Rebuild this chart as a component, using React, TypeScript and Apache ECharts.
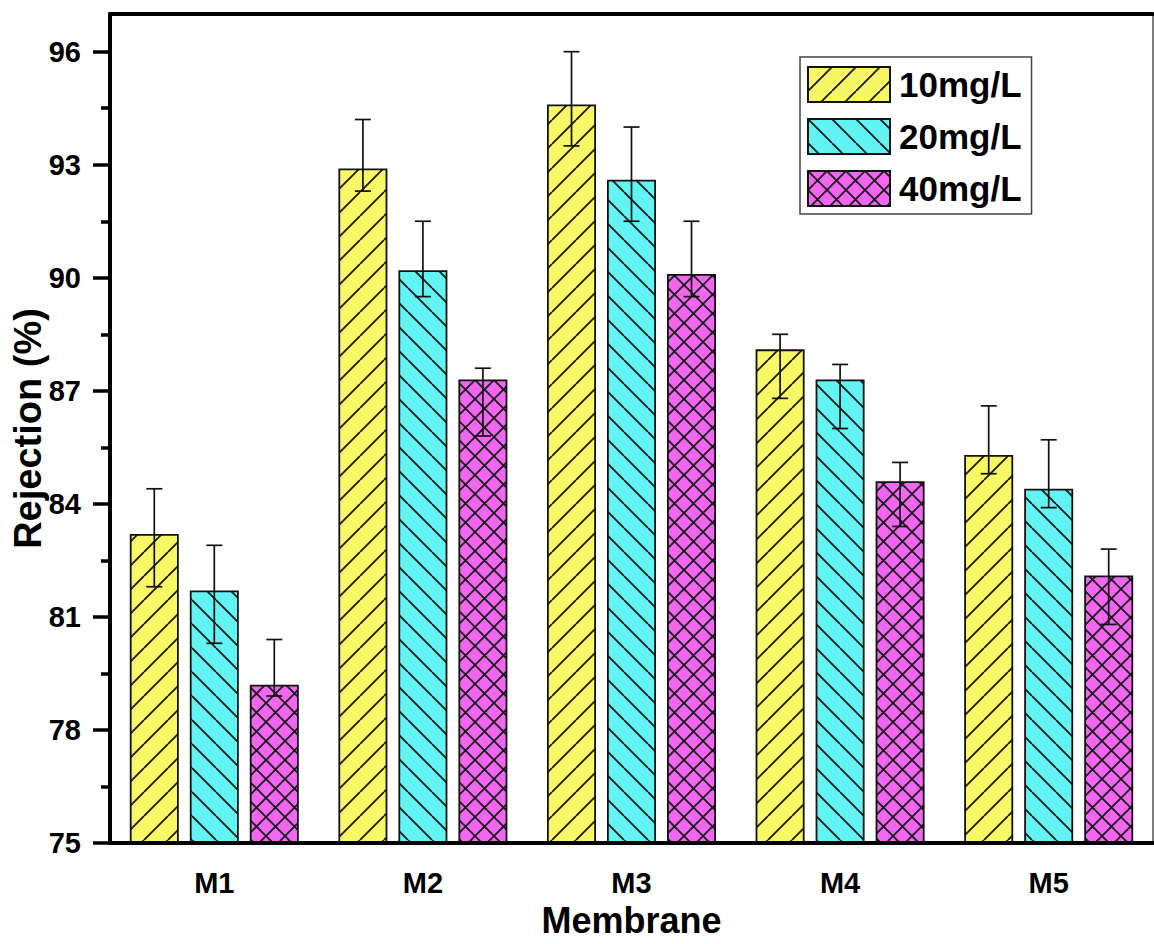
import React, { useEffect, useRef } from "react";
import * as echarts from "echarts";

const categories = ["M1", "M2", "M3", "M4", "M5"];
const seriesNames = ["10mg/L", "20mg/L", "40mg/L"];
const values10 = [83.2, 92.9, 94.6, 88.1, 85.3];
const values20 = [81.7, 90.2, 92.6, 87.3, 84.4];
const values40 = [79.2, 87.3, 90.1, 84.6, 82.1];
const errLow10 = [81.8, 92.3, 93.5, 86.8, 84.8];
const errHigh10 = [84.4, 94.2, 96.0, 88.5, 86.6];
const errLow20 = [80.3, 89.5, 91.5, 86.0, 83.9];
const errHigh20 = [82.9, 91.5, 94.0, 87.7, 85.7];
const errLow40 = [78.9, 85.8, 89.5, 83.4, 80.8];
const errHigh40 = [80.4, 87.6, 91.5, 85.1, 82.8];
const yTickLabels = [75, 78, 81, 84, 87, 90, 93, 96];
const yMin = 75;
const yMax = 97;

const FONT = "'Liberation Sans', Arial, Helvetica, sans-serif";
const BAR_WIDTH = 49;
const BAR_GAP_PX = 11;

function makePattern(bg: string, kind: string, size: number) {
  const c = document.createElement("canvas");
  c.width = size;
  c.height = size;
  const ctx = c.getContext("2d")!;
  ctx.fillStyle = bg;
  ctx.fillRect(0, 0, size, size);
  ctx.strokeStyle = "#1a1a1a";
  ctx.lineWidth = 1.8;
  ctx.beginPath();
  for (const k of [-size, 0, size]) {
    if (kind === "fwd" || kind === "cross") {
      ctx.moveTo(k, size);
      ctx.lineTo(k + size, 0);
    }
    if (kind === "back" || kind === "cross") {
      ctx.moveTo(k, 0);
      ctx.lineTo(k + size, size);
    }
  }
  ctx.stroke();
  return {
    image: c.toDataURL(),
    repeat: "repeat",
    imageWidth: size,
    imageHeight: size,
  } as any;
}

export default function App() {
  const ref = useRef<HTMLDivElement>(null);
  useEffect(() => {
    if (!ref.current) return;
    const chart = echarts.init(ref.current, null, { renderer: "svg" });
    const pats = [
      makePattern("#F8F866", "fwd", 24),
      makePattern("#62F3F3", "back", 24),
      makePattern("#F266F2", "cross", 19),
    ];
    const vals = [values10, values20, values40];
    const lows = [errLow10, errLow20, errLow40];
    const highs = [errHigh10, errHigh20, errHigh40];

    const errData: number[][] = [];
    for (let s = 0; s < 3; s++) {
      for (let i = 0; i < categories.length; i++) {
        errData.push([i, lows[s][i], highs[s][i], s]);
      }
    }
    const minorTicks = yTickLabels.slice(0, -1).map((v, i) => (v + yTickLabels[i + 1]) / 2);

    const barSeries = seriesNames.map((name, s) => ({
      name,
      type: "bar",
      barWidth: BAR_WIDTH,
      barGap: (BAR_GAP_PX / BAR_WIDTH) * 100 + "%",
      data: vals[s],
      itemStyle: {
        color: pats[s],
        borderColor: "#111",
        borderWidth: 1.8,
      },
      z: 2,
    }));

    const option: any = {
      animation: false,
      backgroundColor: "#fff",
      textStyle: { fontFamily: FONT },
      grid: { left: 110, right: 1, top: 14, bottom: 101, containLabel: false, outerBoundsMode: "none" },
      legend: {
        data: seriesNames,
        orient: "vertical",
        left: 800,
        top: 57,
        padding: [9, 10, 7, 7],
        itemWidth: 82,
        itemHeight: 35,
        itemGap: 15,
        icon: "rect",
        borderColor: "#444",
        borderWidth: 1.5,
        textStyle: { fontSize: 35, fontWeight: "bold", color: "#000", fontFamily: FONT, padding: [0, 0, 0, 4] },
      },
      xAxis: [
        {
          type: "category",
          data: categories,
          z: 10,
          axisLine: { lineStyle: { color: "#000", width: 4 } },
          axisTick: { alignWithLabel: true, length: 16, lineStyle: { color: "#000", width: 3 } },
          axisLabel: { fontSize: 29, fontWeight: "bold", color: "#000", margin: 25, fontFamily: FONT },
          name: "Membrane",
          nameLocation: "middle",
          nameGap: 59,
          nameMoveOverlap: false,
          nameTextStyle: { fontSize: 36, fontWeight: "bold", color: "#000", fontFamily: FONT },
        },
        {
          type: "category",
          data: categories,
          position: "top",
          z: 10,
          axisLine: { lineStyle: { color: "#000", width: 4 } },
          axisTick: { show: false },
          axisLabel: { show: false },
        },
      ],
      yAxis: [
        {
          type: "value",
          min: yMin,
          max: yMax,
          interval: 3,
          z: 10,
          axisLine: { show: true, lineStyle: { color: "#000", width: 4 } },
          axisTick: { show: true, length: 17, customValues: yTickLabels, lineStyle: { color: "#000", width: 3.5 } },
          axisLabel: { customValues: yTickLabels, fontSize: 29, fontWeight: "bold", color: "#000", margin: 29, fontFamily: FONT },
          splitLine: { show: false },
          name: "Rejection (%)",
          nameLocation: "middle",
          nameGap: 63,
          nameMoveOverlap: false,
          nameTextStyle: { fontSize: 38, fontWeight: "bold", color: "#000", fontFamily: FONT },
        },
        {
          type: "value",
          min: yMin,
          max: yMax,
          position: "left",
          z: 10,
          axisLine: { show: false },
          axisTick: { show: true, length: 9, customValues: minorTicks, lineStyle: { color: "#000", width: 3.5 } },
          axisLabel: { show: false },
          splitLine: { show: false },
        },
        {
          type: "value",
          min: yMin,
          max: yMax,
          position: "right",
          z: 10,
          axisLine: { show: true, lineStyle: { color: "#555", width: 1.5 } },
          axisTick: { show: false },
          axisLabel: { show: false },
          splitLine: { show: false },
        },
      ],
      series: [
        ...barSeries,
        {
          type: "custom",
          z: 5,
          data: errData,
          encode: { x: 0, y: [1, 2] },
          renderItem: (params: any, api: any) => {
            const cat = api.value(0);
            const lo = api.value(1);
            const hi = api.value(2);
            const s = api.value(3);
            const pLo = api.coord([cat, lo]);
            const pHi = api.coord([cat, hi]);
            const x = pLo[0] + (s - 1) * (BAR_WIDTH + BAR_GAP_PX);
            const half = 8;
            const style = { stroke: "#111", lineWidth: 1.7 };
            return {
              type: "group",
              children: [
                { type: "line", shape: { x1: x, y1: pLo[1], x2: x, y2: pHi[1] }, style },
                { type: "line", shape: { x1: x - half, y1: pHi[1], x2: x + half, y2: pHi[1] }, style },
                { type: "line", shape: { x1: x - half, y1: pLo[1], x2: x + half, y2: pLo[1] }, style },
              ],
            };
          },
        },
      ],
    };
    chart.setOption(option);
    return () => chart.dispose();
  }, []);
  return (
    <div
      ref={ref}
      style={{ position: "fixed", left: 0, top: 0, width: 1154, height: 944, background: "#fff" }}
    />
  );
}
